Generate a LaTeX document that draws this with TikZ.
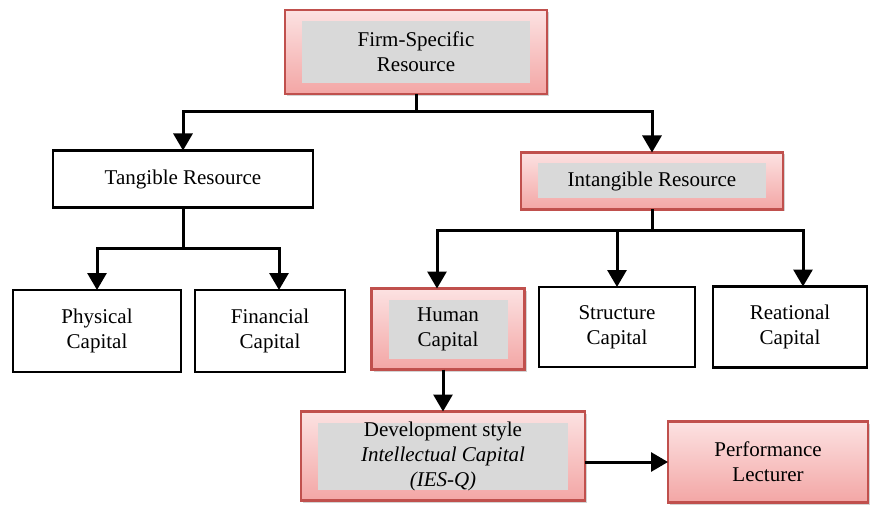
\documentclass[tikz,border=0pt]{standalone}
\usepackage{fontspec}
\setmainfont{Liberation Serif}
\usepackage{xcolor}
\usetikzlibrary{arrows.meta,shadows}

\definecolor{redline}{HTML}{C0504D}
\definecolor{pinktop}{HTML}{FCE2E2}
\definecolor{pinkbot}{HTML}{F3A6A5}
\definecolor{greyin}{HTML}{D9D9D9}

\tikzset{
  plainbox/.style={draw=black, line width=2.4pt, fill=white, align=center, inner sep=0pt, outer sep=0pt},
  redbox/.style={draw=redline, line width=2.2pt, top color=pinktop, bottom color=pinkbot, align=center,
    inner sep=0pt, outer sep=0pt, drop shadow={opacity=0.35, shadow xshift=2pt, shadow yshift=-2pt}},
  greybox/.style={redbox, path picture={\fill[greyin] ([shift={(17pt,-11pt)}]path picture bounding box.north west)
    rectangle ([shift={(-17pt,11pt)}]path picture bounding box.south east);}},
  conn/.style={line width=3pt, line join=miter},
  arrow/.style={conn, -{Triangle[length=17pt,width=19pt]}}
}

\begin{document}
\begin{tikzpicture}[x=1pt, y=-1pt, font=\rmfamily\fontsize{21}{25}\selectfont]
\useasboundingbox (0,0) rectangle (870,505);

% boxes
\node[greybox, minimum width=262pt, minimum height=84pt] (firm) at (416,52) {Firm-Specific\\Resource};
\node[plainbox, minimum width=260pt, minimum height=57pt] (tangible) at (183,179) {Tangible Resource};
\node[greybox, minimum width=262pt, minimum height=57pt] (intangible) at (652,181) {Intangible Resource};
\node[plainbox, minimum width=168pt, minimum height=82pt] (physical) at (97,331) {Physical\\Capital};
\node[plainbox, minimum width=150pt, minimum height=82pt] (financial) at (270,331) {Financial\\Capital};
\node[greybox, minimum width=153pt, minimum height=81pt] (human) at (448,329) {Human\\Capital};
\node[plainbox, minimum width=156pt, minimum height=80pt] (structure) at (617,327) {Structure\\Capital};
\node[plainbox, minimum width=154pt, minimum height=81pt] (reational) at (790,327) {Reational\\Capital};
\node[greybox, minimum width=284pt, minimum height=89pt] (dev) at (443,456) {Development style\\\textit{Intellectual Capital}\\\textit{(IES-Q)}};
\node[redbox, minimum width=200pt, minimum height=81pt] (perf) at (768,462) {Performance\\Lecturer};

% bus points
\coordinate (topbus) at (416,112);
\coordinate (tanbus) at (183,248);
\coordinate (intbus) at (652,231);

% connectors
\draw[conn] (firm.south) -- (topbus);
\draw[arrow] (topbus) -| (tangible.north);
\draw[arrow] (topbus) -| (intangible.north);
\draw[conn] (tangible.south) -- (tanbus);
\draw[arrow] (tanbus) -| (physical.north);
\draw[arrow] (tanbus) -| ([xshift=9pt]financial.north);
\draw[conn] (intangible.south) -- (intbus);
\draw[arrow] (intbus) -| ([xshift=-11pt]human.north);
\draw[arrow] (intbus) -| (structure.north);
\draw[arrow] (intbus) -| ([xshift=13pt]reational.north);
\draw[arrow] (human.south -| dev.north) -- (dev.north);
\draw[arrow] (dev.east |- perf.west) -- (perf.west);
\end{tikzpicture}
\end{document}
